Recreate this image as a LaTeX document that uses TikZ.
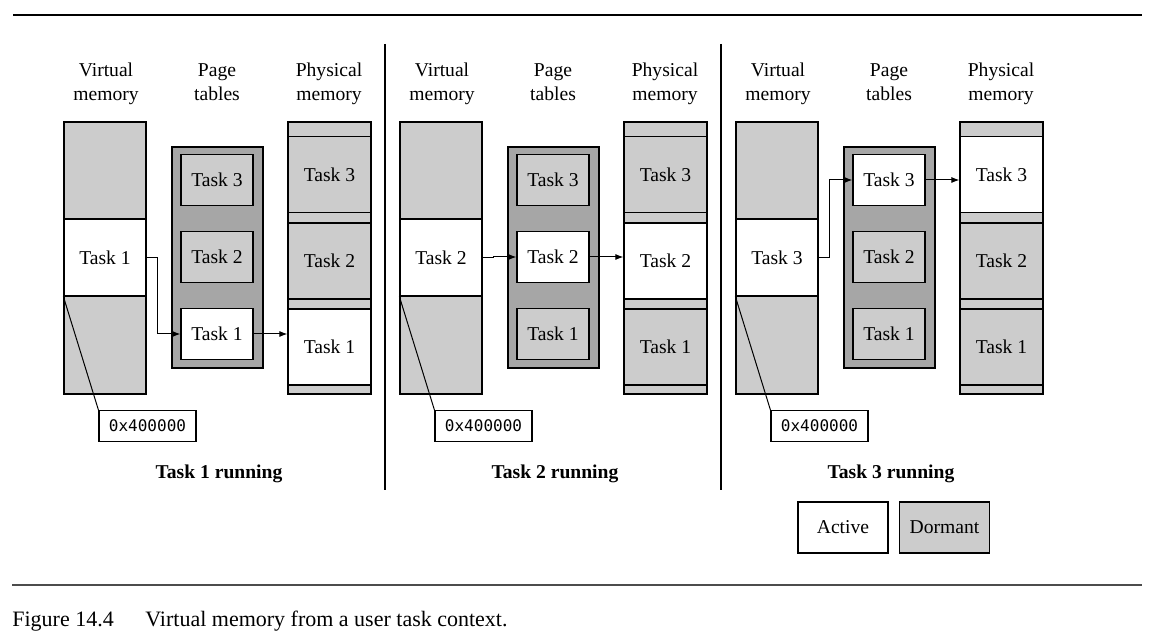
\documentclass[tikz,border=0pt]{standalone}
\usepackage{fontspec}
\setmainfont{Liberation Serif}
\setmonofont{DejaVu Sans Mono}
\usetikzlibrary{arrows.meta, positioning, calc}

\definecolor{dormant}{gray}{0.8}
\definecolor{ptgray}{gray}{0.65}

\begin{document}
\begin{tikzpicture}[x=0.5pt, y=-0.5pt,
    every node/.style={font=\fontsize{9.8}{12}\selectfont},
    membox/.style={draw, line width=0.6pt, fill=dormant, inner sep=0pt},
    vmbox/.style={membox, minimum width=41pt, minimum height=136pt},
    vmtask/.style={membox, fill=white, minimum width=41pt, minimum height=38.5pt},
    ptbox/.style={membox, fill=ptgray, minimum width=45.5pt, minimum height=110.5pt},
    ptentry/.style={membox, minimum width=36pt, minimum height=25.5pt},
    pmbox/.style={membox, minimum width=41.5pt, minimum height=136pt},
    pmentry/.style={membox, minimum width=41.5pt, minimum height=38pt},
    addrbox/.style={draw, line width=0.6pt, minimum width=48.5pt, minimum height=15.5pt, inner sep=0pt, font=\fontsize{8}{10}\ttfamily},
    heading/.style={align=center},
    legendbox/.style={membox, minimum width=45pt, minimum height=25.5pt},
    link/.style={-{Latex[length=4pt, width=3pt]}, line width=0.5pt}
]
    \useasboundingbox (0,0) rectangle (1162,635);

    % rules above and below
    \draw[line width=0.6pt] (13,15) -- (1142,15);
    \draw[line width=0.6pt, black!70] (12,585) -- (1142,585);

    % panel separators
    \draw[line width=0.6pt] (385,44) -- (385,490);
    \draw[line width=0.6pt] (721,44) -- (721,490);

    \foreach \p/\dx in {1/0, 2/336, 3/672} {
        % column headings
        \node[heading] (hvm\p) at (\dx+106,84) {Virtual\strut\\memory\strut};
        \node[heading] (hpt\p) at (\dx+217,84) {Page\strut\\tables\strut};
        \node[heading] (hpm\p) at (\dx+329,84) {Physical\strut\\memory\strut};

        % virtual memory
        \node[vmbox] (vm\p) at (\dx+105,258) {};
        \node[vmtask] (vmtask\p) at (\dx+105,257.5) {Task \p};

        % page tables and physical memory
        \node[ptbox] (pt\p) at (\dx+217.5,257.5) {};
        \node[pmbox] (pm\p) at (\dx+329.5,258) {};
        \foreach \k/\ty/\my in {3/180/174.5, 2/257/261, 1/334/347} {
            \ifnum\k=\p \def\fc{white}\else\def\fc{dormant}\fi
            \node[ptentry, fill=\fc] (pt\p-\k) at (\dx+217,\ty) {Task \k};
            \node[pmentry, fill=\fc] (pm\p-\k) at (\dx+329.5,\my) {Task \k};
        }

        % start address
        \node[addrbox] (addr\p) at (\dx+147.5,426) {0x400000};
        \draw[line width=0.5pt] (vmtask\p.south west) -- (addr\p.north west);

        % mapping arrows
        \draw[link] (vmtask\p.east) -- ++(11,0) |- (pt\p-\p.west);
        \draw[link] (pt\p-\p.east) -- (pt\p-\p.east -| pm\p.west);

        \node (run\p) at (\dx+219,474) {\textbf{Task \p{} running}};
    }

    % legend
    \node[legendbox, fill=white] (active) at (843,527.5) {Active};
    \node[legendbox] (dormantkey) at (944.5,527.5) {Dormant};

    % caption
    \node[anchor=base west, inner sep=0pt, font=\fontsize{11}{13}\selectfont] (fig) at (12,626) {Figure 14.4};
    \node[anchor=base west, inner sep=0pt, font=\fontsize{11}{13}\selectfont] (caption) at (145,626) {Virtual memory from a user task context.};
\end{tikzpicture}
\end{document}
